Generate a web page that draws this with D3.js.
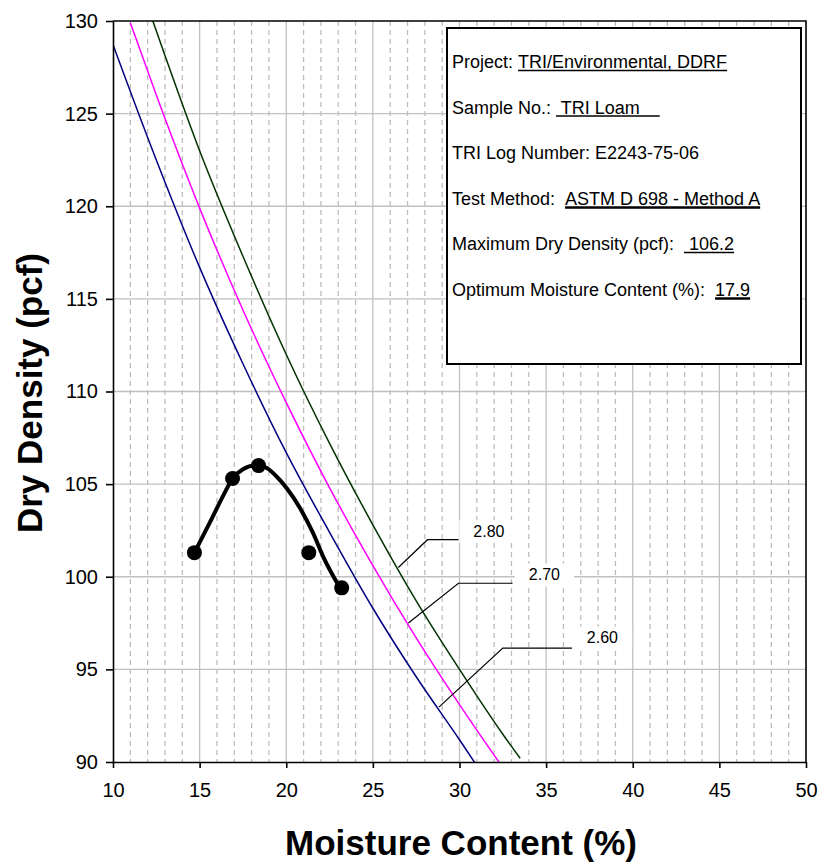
<!DOCTYPE html>
<html>
<head>
<meta charset="utf-8">
<script src="https://cdn.jsdelivr.net/npm/d3@7"></script>
<style>
body{margin:0;background:#fff}
svg text{font-family:Arial,"Liberation Sans",sans-serif;white-space:pre}
</style>
</head>
<body>
<div id="graph"></div>
<script>
// test points
var moisture = [14.7, 16.9, 18.4, 21.3, 23.2]
var density = [101.3, 105.3, 106.0, 101.3, 99.4]

// drawn fit through the points
var fitMoisture = [14.7, 15.6, 16.4, 16.9, 17.5, 18.2, 18.8, 19.4, 20.05, 20.8, 21.55, 22.15, 23.1]
var fitDensity = [101.3, 102.95, 104.45, 105.3, 105.8, 106.0, 105.9, 105.45, 104.75, 103.7, 102.35, 101.05, 99.4]

// zero air voids lines
var zavMoisture26 = [9.5, 12.5, 15, 17.5, 20, 22.5, 25, 27.5, 30, 31]
var zavDensity26 = [130.0, 122.5, 116.7, 111.5, 106.7, 102.4, 98.3, 94.6, 91.2, 89.8]
var zavMoisture27 = [11, 12.5, 15, 17.5, 20, 22.5, 25, 27.5, 30, 32.5]
var zavDensity27 = [129.9, 126.0, 119.9, 114.4, 109.4, 104.8, 100.6, 96.7, 93.1, 89.7]
var zavMoisture28 = [12.3, 15, 17.5, 20, 22.5, 25, 27.5, 30, 32.5, 33.5]
var zavDensity28 = [130.0, 123.0, 117.3, 112.0, 107.2, 102.8, 98.7, 95.0, 91.5, 90.2]

// specific gravity labels + leaders
var gsLabels = ['2.80', '2.70', '2.60']
var leaderX = [[26.47, 28.15, 29.94], [27.05, 29.94, 33.06], [28.81, 32.5, 36.49]]
var leaderY = [[100.5, 102.0, 102.0], [97.5, 99.65, 99.65], [92.96, 96.15, 96.15]]
var labelX = [30.8, 34.0, 37.35]
var labelY = [102.45, 100.1, 96.7]

var xTicks = [10, 15, 20, 25, 30, 35, 40, 45, 50]
var yTicks = [90, 95, 100, 105, 110, 115, 120, 125, 130]

var infoLabels = ['Project: ', 'Sample No.: ', 'TRI Log Number: E2243-75-06', 'Test Method:  ', 'Maximum Dry Density (pcf):  ', 'Optimum Moisture Content (%):  ']
var infoValues = ['TRI/Environmental, DDRF', ' TRI Loam    ', '', 'ASTM D 698 - Method A', ' 106.2', '17.9']
var infoUnder = [1, 1, 0, 2, 1, 2]

var margin = {top: 21, left: 113, right: 13, bottom: 102}
var width = 819 - margin.left - margin.right
var height = 864 - margin.top - margin.bottom

var svg = d3.select('#graph').append('svg')
  .attr('width', 819).attr('height', 864)

var g = svg.append('g').attr('transform', `translate(${margin.left},${margin.top})`)

var x = d3.scaleLinear().domain([10, 50]).range([0, width])
var y = d3.scaleLinear().domain([90, 130]).range([height, 0])

g.append('clipPath').attr('id', 'clip')
  .append('rect').attr('width', width).attr('height', height)

// grid
var minor = d3.range(11, 50).filter(d => d % 5)
g.selectAll('line.minor').data(minor).join('line')
  .attr('x1', d => x(d)).attr('x2', d => x(d))
  .attr('y1', 0).attr('y2', height)
  .attr('stroke', '#bdbdbd').attr('stroke-width', 1.3)
  .attr('stroke-dasharray', '5,4')

g.selectAll('line.vmajor').data(xTicks.slice(1, -1)).join('line')
  .attr('x1', d => x(d)).attr('x2', d => x(d))
  .attr('y1', 0).attr('y2', height)
  .attr('stroke', '#c0c0c0').attr('stroke-width', 1.3)

g.selectAll('line.hmajor').data(yTicks.slice(1, -1)).join('line')
  .attr('y1', d => y(d)).attr('y2', d => y(d))
  .attr('x1', 0).attr('x2', width)
  .attr('stroke', '#c0c0c0').attr('stroke-width', 1.3)

// zav curves
var plot = g.append('g').attr('clip-path', 'url(#clip)')
var zav = [
  [zavMoisture26, zavDensity26, '#000080'],
  [zavMoisture27, zavDensity27, '#ff00ff'],
  [zavMoisture28, zavDensity28, '#003300']
]
var line = d3.line().x(d => x(d[0])).y(d => y(d[1])).curve(d3.curveMonotoneX)

zav.forEach(([mx, dy, col]) => {
  plot.append('path')
    .datum(d3.zip(mx, dy))
    .attr('d', line)
    .attr('fill', 'none')
    .attr('stroke', col)
    .attr('stroke-width', 1.5)
})

// leaders + labels
var leader = d3.line().x(d => x(d[0])).y(d => y(d[1]))
gsLabels.forEach((lbl, i) => {
  var t = g.append('text')
    .attr('x', x(labelX[i])).attr('y', y(labelY[i]))
    .attr('dy', '0.35em')
    .attr('font-size', 16)
    .text(lbl)
  var bb = t.node().getBBox()
  g.insert('rect', () => t.node())
    .attr('x', bb.x - 14).attr('y', bb.y - 3)
    .attr('width', bb.width + 28).attr('height', bb.height + 6)
    .attr('fill', '#fff')
  g.append('path')
    .datum(d3.zip(leaderX[i], leaderY[i]))
    .attr('d', leader)
    .attr('fill', 'none')
    .attr('stroke', '#000')
    .attr('stroke-width', 1.2)
})

// fit + points
g.append('path')
  .datum(d3.zip(fitMoisture, fitDensity))
  .attr('d', d3.line().x(d => x(d[0])).y(d => y(d[1])).curve(d3.curveMonotoneX))
  .attr('fill', 'none')
  .attr('stroke', '#000')
  .attr('stroke-width', 4)
  .attr('stroke-linejoin', 'round')

g.selectAll('circle.pt').data(d3.zip(moisture, density)).join('circle')
  .attr('cx', d => x(d[0])).attr('cy', d => y(d[1]))
  .attr('r', 7.5)
  .attr('fill', '#000')

// info box
var bx = 334, by = 7, bw = 354, bh = 336
g.append('rect')
  .attr('x', bx).attr('y', by).attr('width', bw).attr('height', bh)
  .attr('fill', '#fff').attr('stroke', '#000').attr('stroke-width', 2)

infoLabels.forEach((lbl, i) => {
  var ty = 47 + i * 45.5
  var t1 = g.append('text').attr('x', bx + 5).attr('y', ty)
    .attr('font-size', 18).text(lbl)
  if (!infoValues[i]) return
  var x0 = bx + 5 + t1.node().getComputedTextLength()
  var t2 = g.append('text').attr('x', x0).attr('y', ty)
    .attr('font-size', 18).text(infoValues[i])
  var w = t2.node().getComputedTextLength()
  g.append('line')
    .attr('x1', x0).attr('x2', x0 + w)
    .attr('y1', ty + 2 + infoUnder[i] / 2).attr('y2', ty + 2 + infoUnder[i] / 2)
    .attr('stroke', '#000').attr('stroke-width', infoUnder[i] + 0.3)
})

// frame top/right
g.append('path')
  .attr('d', `M0,0H${width}V${height}`)
  .attr('fill', 'none').attr('stroke', '#000').attr('stroke-width', 1.6)

// axes
var xAxis = g.append('g').attr('transform', `translate(0,${height})`)
  .call(d3.axisBottom(x).tickValues(xTicks).tickSize(6).tickPadding(15).tickSizeOuter(0))
var yAxis = g.append('g')
  .call(d3.axisLeft(y).tickValues(yTicks).tickSize(7).tickPadding(8).tickSizeOuter(0))

;[xAxis, yAxis].forEach(a => {
  a.selectAll('path, line').attr('stroke', '#000').attr('stroke-width', 1.6)
  a.selectAll('text').attr('font-size', 20).attr('fill', '#000')
    .style('font-family', 'Arial, "Liberation Sans", sans-serif')
})

// titles
svg.append('text')
  .attr('x', 461).attr('y', 855)
  .attr('text-anchor', 'middle')
  .attr('font-size', 35).attr('font-weight', 'bold')
  .text('Moisture Content (%)')

svg.append('text')
  .attr('transform', 'translate(42,393) rotate(-90)')
  .attr('text-anchor', 'middle')
  .attr('font-size', 35).attr('font-weight', 'bold')
  .text('Dry Density (pcf)')
</script>
</body>
</html>
